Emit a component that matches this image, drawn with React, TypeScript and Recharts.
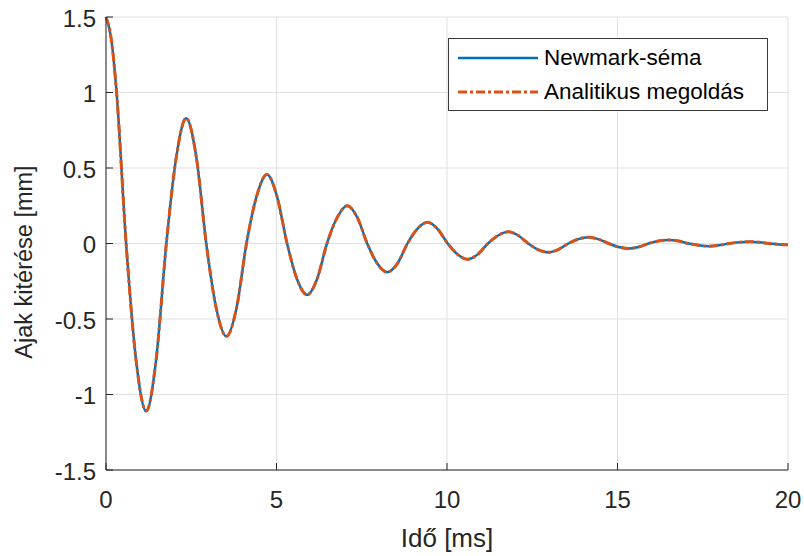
import React from "react";
import { LineChart, Line, XAxis, YAxis, CartesianGrid } from "recharts";

// time axis [ms] (extrema, zero crossings and the points in between)
const timeMs = [
  0, 0.15, 0.3, 0.59, 0.88, 1.18, 1.47, 1.77, 2.06, 2.35, 2.65, 2.94, 3.23, 3.53, 3.83, 4.12, 4.42,
  4.72, 5.01, 5.31, 5.6, 5.9, 6.19, 6.48, 6.78, 7.07, 7.37, 7.66, 7.95, 8.25, 8.55, 8.84, 9.13,
  9.43, 9.72, 10.02, 10.31, 10.6, 10.9, 11.2, 11.5, 11.8, 12.09, 12.38, 12.67, 12.97, 13.26,
  13.56, 13.85, 14.15, 14.44, 14.74, 15.03, 15.33, 15.62, 15.91, 16.2, 16.5, 16.79, 17.09,
  17.38, 17.68, 17.98, 18.27, 18.57, 18.87, 19.16, 19.45, 19.75, 20,
];

// displacement [mm]
const newmarkMm = [
  1.5, 1.36, 1.03, 0, -0.77, -1.11, -0.77, 0, 0.57, 0.83, 0.57, 0, -0.425, -0.615, -0.425, 0, 0.315,
  0.457, 0.315, 0, -0.235, -0.34, -0.235, 0, 0.172, 0.25, 0.172, 0, -0.131, -0.19, -0.131, 0,
  0.097, 0.14, 0.097, 0, -0.072, -0.105, -0.072, 0, 0.053, 0.077, 0.053, 0, -0.04, -0.058,
  -0.04, 0, 0.029, 0.042, 0.029, 0, -0.023, -0.033, -0.023, 0, 0.016, 0.023, 0.016, 0, -0.012,
  -0.018, -0.012, 0, 0.008, 0.012, 0.008, 0, -0.006, -0.008,
];

// the analytic curve lies exactly on top of the Newmark one in the picture
const analyticMm = [
  1.5, 1.36, 1.03, 0, -0.77, -1.11, -0.77, 0, 0.57, 0.83, 0.57, 0, -0.425, -0.615, -0.425, 0, 0.315,
  0.457, 0.315, 0, -0.235, -0.34, -0.235, 0, 0.172, 0.25, 0.172, 0, -0.131, -0.19, -0.131, 0,
  0.097, 0.14, 0.097, 0, -0.072, -0.105, -0.072, 0, 0.053, 0.077, 0.053, 0, -0.04, -0.058,
  -0.04, 0, 0.029, 0.042, 0.029, 0, -0.023, -0.033, -0.023, 0, 0.016, 0.023, 0.016, 0, -0.012,
  -0.018, -0.012, 0, 0.008, 0.012, 0.008, 0, -0.006, -0.008,
];

const xTicks = [0, 5, 10, 15, 20];
const yTicks = [-1.5, -1, -0.5, 0, 0.5, 1, 1.5];
const seriesNames = ["Newmark-séma", "Analitikus megoldás"];
const xTitle = "Idő [ms]";
const yTitle = "Ajak kitérése [mm]";

const BLUE = "#0072BD";
const ORANGE = "#D95319";
const INK = "#262626";
const FONT = "'Liberation Sans', Arial, Helvetica, sans-serif";
const TICK_FS = 24;

const data = timeMs.map((t, i) => ({
  t,
  newmark: newmarkMm[i],
  analytic: analyticMm[i],
}));

function XTick(props: any) {
  const { x, y, payload } = props;
  return (
    <g>
      <line x1={x} x2={x} y1={y} y2={y - 7} stroke={INK} strokeWidth={1} />
      <text x={x} y={y + 38} textAnchor="middle" fontSize={TICK_FS} fontFamily={FONT} fill={INK}>
        {payload.value}
      </text>
    </g>
  );
}

function YTick(props: any) {
  const { x, y, payload } = props;
  return (
    <g>
      <line x1={x} x2={x + 7} y1={y} y2={y} stroke={INK} strokeWidth={1} />
      <text x={x - 10} y={y + 9.5} textAnchor="end" fontSize={TICK_FS} fontFamily={FONT} fill={INK}>
        {String(payload.value)}
      </text>
    </g>
  );
}

export default function App() {
  return (
    <div style={{ position: "absolute", left: 0, top: 0, width: 804, height: 556, background: "#fff" }}>
      <LineChart width={804} height={556} data={data} margin={{ top: 17, right: 16, bottom: 0, left: 0 }}>
        <CartesianGrid stroke="#e1e1e1" strokeWidth={1} />
        <XAxis
          dataKey="t"
          type="number"
          domain={[0, 20]}
          ticks={xTicks}
          height={86}
          tickSize={0}
          tickMargin={0}
          tickLine={false}
          axisLine={{ stroke: INK, strokeWidth: 1 }}
          tick={<XTick />}
          interval={0}
        />
        <YAxis
          type="number"
          domain={[-1.5, 1.5]}
          ticks={yTicks}
          width={106}
          tickSize={0}
          tickMargin={0}
          tickLine={false}
          axisLine={{ stroke: INK, strokeWidth: 1 }}
          tick={<YTick />}
          interval={0}
          allowDataOverflow
        />
        <Line
          type="monotone"
          dataKey="newmark"
          name={seriesNames[0]}
          stroke={BLUE}
          strokeWidth={2.5}
          dot={false}
          isAnimationActive={false}
        />
        <Line
          type="monotone"
          dataKey="analytic"
          name={seriesNames[1]}
          stroke={ORANGE}
          strokeWidth={3}
          strokeDasharray="9 3 3 3"
          dot={false}
          isAnimationActive={false}
        />
      </LineChart>

      {/* axis titles */}
      <div
        style={{
          position: "absolute",
          left: 447,
          top: 538,
          transform: "translate(-50%, -50%)",
          fontFamily: FONT,
          fontSize: 26,
          lineHeight: "30px",
          color: INK,
          whiteSpace: "nowrap",
        }}
      >
        {xTitle}
      </div>
      <div
        style={{
          position: "absolute",
          left: 24,
          top: 262,
          transform: "translate(-50%, -50%) rotate(-90deg)",
          fontFamily: FONT,
          fontSize: 23.5,
          lineHeight: "28px",
          color: INK,
          whiteSpace: "nowrap",
        }}
      >
        {yTitle}
      </div>

      {/* legend */}
      <div
        style={{
          position: "absolute",
          left: 448,
          top: 38,
          width: 318,
          height: 71,
          border: "1px solid #3a3a3a",
          background: "#fff",
          fontFamily: FONT,
          fontSize: 22.5,
          color: "#000",
        }}
      >
        {seriesNames.map((name, i) => (
          <div key={name} style={{ position: "absolute", left: 0, top: 19 + i * 34 - 18, height: 36, width: 318 }}>
            <svg width={86} height={36} style={{ position: "absolute", left: 8, top: 0 }}>
              <line
                x1={1}
                x2={81}
                y1={18}
                y2={18}
                stroke={i === 0 ? BLUE : ORANGE}
                strokeWidth={i === 0 ? 2.5 : 3}
                strokeDasharray={i === 0 ? undefined : "9 3 3 3"}
              />
            </svg>
            <span
              style={{
                position: "absolute",
                left: 95,
                top: 4,
                lineHeight: "28px",
                whiteSpace: "nowrap",
              }}
            >
              {name}
            </span>
          </div>
        ))}
      </div>
    </div>
  );
}
